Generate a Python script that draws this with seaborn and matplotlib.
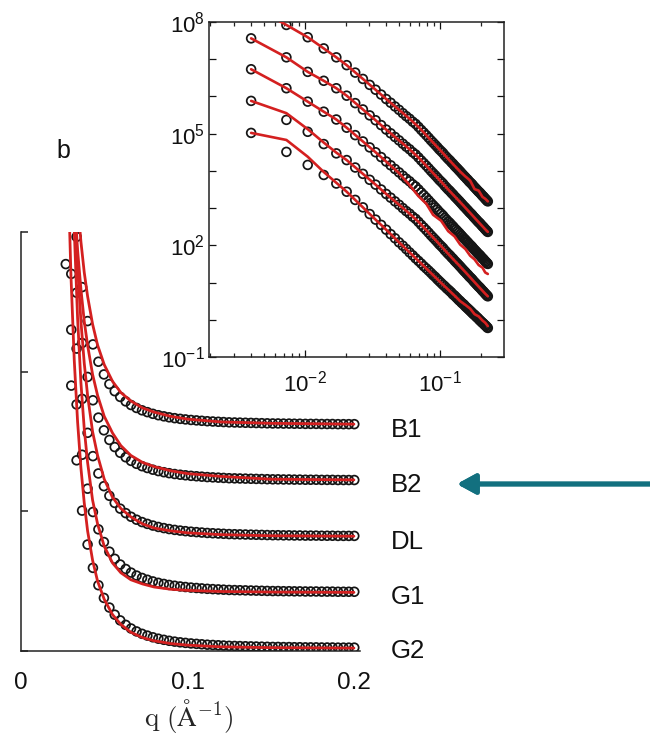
import numpy as np
import matplotlib
matplotlib.use("Agg")
import matplotlib.pyplot as plt
import matplotlib.patheffects as pe
from matplotlib.patches import FancyArrowPatch
from matplotlib.ticker import FixedLocator, FuncFormatter, LogLocator, NullLocator, NullFormatter
import seaborn as sns

# q grid (1/A) of the measured points
q = [0.0040, 0.0073, 0.0105, 0.0138, 0.0171, 0.0204, 0.0236, 0.0269, 0.0302, 0.0334,
     0.0367, 0.0400, 0.0432, 0.0465, 0.0498, 0.0531, 0.0563, 0.0596, 0.0629, 0.0661,
     0.0694, 0.0727, 0.0759, 0.0792, 0.0825, 0.0858, 0.0890, 0.0923, 0.0956, 0.0988,
     0.1021, 0.1054, 0.1086, 0.1119, 0.1152, 0.1185, 0.1217, 0.1250, 0.1283, 0.1315,
     0.1348, 0.1381, 0.1413, 0.1446, 0.1479, 0.1512, 0.1544, 0.1577, 0.1610, 0.1642,
     0.1675, 0.1708, 0.1740, 0.1773, 0.1806, 0.1839, 0.1871, 0.1904, 0.1937, 0.1969,
     0.2002, 0.2035, 0.2067, 0.2100, 0.2133, 0.2166, 0.2198, 0.2231, 0.2264]

samples = ["B1", "B2", "DL", "G1", "G2"]

# ---- main panel (linear, shifted), points q[7] .. q[60]
main_b1 = [4.370, 3.500, 2.965, 2.605, 2.362, 2.195, 2.071, 1.980, 1.911, 1.860, 1.819, 1.787, 1.761, 1.740,
           1.723, 1.710, 1.698, 1.688, 1.680, 1.673, 1.667, 1.662, 1.658, 1.654, 1.651, 1.648, 1.645, 1.643,
           1.641, 1.639, 1.637, 1.636, 1.635, 1.634, 1.633, 1.632, 1.631, 1.630, 1.629, 1.629, 1.628, 1.628,
           1.627, 1.627, 1.626, 1.626, 1.626, 1.625, 1.625, 1.625, 1.624, 1.624, 1.624, 1.624]
main_b2 = [3.970, 3.100, 2.565, 2.205, 1.962, 1.795, 1.671, 1.580, 1.511, 1.460, 1.419, 1.387, 1.361, 1.340,
           1.323, 1.310, 1.298, 1.288, 1.280, 1.273, 1.267, 1.262, 1.258, 1.254, 1.251, 1.248, 1.245, 1.243,
           1.241, 1.239, 1.237, 1.236, 1.235, 1.234, 1.233, 1.232, 1.231, 1.230, 1.229, 1.229, 1.228, 1.228,
           1.227, 1.227, 1.226, 1.226, 1.226, 1.225, 1.225, 1.225, 1.224, 1.224, 1.224, 1.224]
main_dl = [3.570, 2.700, 2.165, 1.805, 1.562, 1.395, 1.271, 1.180, 1.111, 1.060, 1.019, 0.987, 0.961, 0.940,
           0.923, 0.910, 0.898, 0.888, 0.880, 0.873, 0.867, 0.862, 0.858, 0.854, 0.851, 0.848, 0.845, 0.843,
           0.841, 0.839, 0.837, 0.836, 0.835, 0.834, 0.833, 0.832, 0.831, 0.830, 0.829, 0.829, 0.828, 0.828,
           0.827, 0.827, 0.826, 0.826, 0.826, 0.825, 0.825, 0.825, 0.824, 0.824, 0.824, 0.824]
main_g1 = [3.170, 2.300, 1.765, 1.405, 1.162, 0.995, 0.871, 0.780, 0.711, 0.660, 0.619, 0.587, 0.561, 0.540,
           0.523, 0.510, 0.498, 0.488, 0.480, 0.473, 0.467, 0.462, 0.458, 0.454, 0.451, 0.448, 0.445, 0.443,
           0.441, 0.439, 0.437, 0.436, 0.435, 0.434, 0.433, 0.432, 0.431, 0.430, 0.429, 0.429, 0.428, 0.428,
           0.427, 0.427, 0.426, 0.426, 0.426, 0.425, 0.425, 0.425, 0.424, 0.424, 0.424, 0.424]
main_g2 = [2.770, 1.900, 1.365, 1.005, 0.762, 0.595, 0.471, 0.380, 0.311, 0.260, 0.219, 0.187, 0.161, 0.140,
           0.123, 0.110, 0.098, 0.088, 0.080, 0.073, 0.067, 0.062, 0.058, 0.054, 0.051, 0.048, 0.045, 0.043,
           0.041, 0.039, 0.037, 0.036, 0.035, 0.034, 0.033, 0.032, 0.031, 0.030, 0.029, 0.029, 0.028, 0.028,
           0.027, 0.027, 0.026, 0.026, 0.026, 0.025, 0.025, 0.025, 0.024, 0.024, 0.024, 0.024]

# fitted curves, main panel
q_fit = [0.026, 0.028, 0.030, 0.032, 0.034, 0.036, 0.038, 0.040, 0.043, 0.046, 0.050,
         0.055, 0.060, 0.066, 0.073, 0.080, 0.090, 0.100, 0.120, 0.150, 0.200]
fit_b1 = [5.59, 4.70, 4.06, 3.58, 3.21, 2.93, 2.71, 2.54, 2.34, 2.19, 2.05,
          1.93, 1.85, 1.79, 1.74, 1.71, 1.68, 1.66, 1.64, 1.63, 1.624]
fit_b2 = [5.22, 4.35, 3.71, 3.24, 2.87, 2.59, 2.36, 2.19, 1.98, 1.83, 1.68,
          1.56, 1.47, 1.40, 1.35, 1.32, 1.29, 1.27, 1.25, 1.23, 1.225]
fit_dl = [6.47, 5.02, 4.01, 3.28, 2.75, 2.36, 2.06, 1.83, 1.57, 1.40, 1.23,
          1.10, 1.02, 0.96, 0.91, 0.88, 0.86, 0.846, 0.833, 0.825, 0.822]
fit_g1 = [7.14, 5.20, 3.90, 3.01, 2.38, 1.92, 1.59, 1.35, 1.08, 0.91, 0.75,
          0.63, 0.56, 0.51, 0.48, 0.458, 0.442, 0.434, 0.426, 0.422, 0.42]
fit_g2 = [4.75, 3.54, 2.69, 2.08, 1.64, 1.31, 1.06, 0.86, 0.65, 0.50, 0.37,
          0.26, 0.19, 0.134, 0.096, 0.073, 0.053, 0.042, 0.030, 0.024, 0.021]

# ---- inset (log-log), log10 of intensity at every q
ins_b1 = [8.45, 7.92, 7.59, 7.29, 7.05, 6.84, 6.64, 6.47, 6.31, 6.18,
          6.05, 5.93, 5.83, 5.73, 5.64, 5.55, 5.47, 5.40, 5.32, 5.26,
          5.18, 5.10, 5.03, 4.96, 4.89, 4.82, 4.76, 4.70, 4.64, 4.58,
          4.53, 4.48, 4.42, 4.37, 4.32, 4.28, 4.23, 4.19, 4.14, 4.10,
          4.06, 4.02, 3.98, 3.94, 3.90, 3.86, 3.83, 3.79, 3.76, 3.72,
          3.69, 3.66, 3.63, 3.59, 3.56, 3.53, 3.50, 3.47, 3.44, 3.42,
          3.39, 3.36, 3.33, 3.31, 3.28, 3.25, 3.23, 3.20, 3.18]
ins_b2 = [7.56, 7.05, 6.66, 6.42, 6.22, 6.02, 5.82, 5.65, 5.49, 5.36,
          5.23, 5.11, 5.01, 4.91, 4.82, 4.73, 4.65, 4.58, 4.50, 4.44,
          4.36, 4.28, 4.21, 4.14, 4.07, 4.00, 3.94, 3.88, 3.82, 3.76,
          3.71, 3.66, 3.60, 3.55, 3.50, 3.46, 3.41, 3.37, 3.32, 3.28,
          3.24, 3.20, 3.16, 3.12, 3.08, 3.04, 3.01, 2.97, 2.94, 2.90,
          2.87, 2.84, 2.81, 2.77, 2.74, 2.71, 2.68, 2.65, 2.62, 2.60,
          2.57, 2.54, 2.51, 2.49, 2.46, 2.43, 2.41, 2.38, 2.36]
ins_dl = [6.73, 6.22, 5.86, 5.59, 5.38, 5.16, 4.96, 4.79, 4.63, 4.50,
          4.37, 4.25, 4.15, 4.05, 3.96, 3.87, 3.79, 3.72, 3.64, 3.58,
          3.50, 3.42, 3.35, 3.28, 3.21, 3.14, 3.08, 3.02, 2.96, 2.90,
          2.85, 2.80, 2.74, 2.69, 2.64, 2.60, 2.55, 2.51, 2.46, 2.42,
          2.38, 2.34, 2.30, 2.26, 2.22, 2.18, 2.15, 2.11, 2.08, 2.04,
          2.01, 1.98, 1.95, 1.91, 1.88, 1.85, 1.82, 1.79, 1.76, 1.74,
          1.71, 1.68, 1.65, 1.63, 1.60, 1.57, 1.55, 1.52, 1.50]
ins_g1 = [5.88, 5.37, 5.05, 4.72, 4.47, 4.29, 4.09, 3.92, 3.76, 3.63,
          3.50, 3.38, 3.28, 3.18, 3.09, 3.00, 2.92, 2.85, 2.77, 2.71,
          2.63, 2.55, 2.48, 2.41, 2.34, 2.27, 2.21, 2.15, 2.09, 2.03,
          1.98, 1.93, 1.87, 1.82, 1.77, 1.73, 1.68, 1.64, 1.59, 1.55,
          1.51, 1.47, 1.43, 1.39, 1.35, 1.31, 1.28, 1.24, 1.21, 1.17,
          1.14, 1.11, 1.08, 1.04, 1.01, 0.98, 0.95, 0.92, 0.89, 0.87,
          0.84, 0.81, 0.78, 0.76, 0.73, 0.70, 0.68, 0.65, 0.63]
ins_g2 = [5.02, 4.51, 4.16, 3.89, 3.66, 3.44, 3.22, 3.02, 2.84, 2.69,
          2.55, 2.42, 2.30, 2.19, 2.08, 1.99, 1.90, 1.81, 1.73, 1.65,
          1.58, 1.51, 1.44, 1.38, 1.32, 1.26, 1.20, 1.15, 1.09, 1.04,
          0.99, 0.94, 0.90, 0.85, 0.81, 0.77, 0.73, 0.68, 0.65, 0.61,
          0.57, 0.53, 0.50, 0.46, 0.43, 0.40, 0.36, 0.33, 0.30, 0.27,
          0.24, 0.21, 0.18, 0.15, 0.13, 0.10, 0.07, 0.05, 0.02, -0.01,
          -0.03, -0.06, -0.08, -0.10, -0.13, -0.15, -0.17, -0.20, -0.22]

# fitted curves, inset (log10)
q_fit_ins = [0.0040, 0.0073, 0.0105, 0.0138, 0.0171, 0.0204, 0.0269, 0.0334, 0.0400, 0.0498,
             0.0596, 0.0694, 0.0792, 0.0890, 0.1021, 0.1152, 0.1283, 0.1413, 0.1544, 0.1675,
             0.1806, 0.1937, 0.2067, 0.2166, 0.2264]
fit_ins_b1 = [8.45, 7.92, 7.59, 7.29, 7.05, 6.84, 6.47, 6.18, 5.93, 5.64, 5.40, 5.18, 4.96,
              4.76, 4.53, 4.32, 4.14, 3.98, 3.85, 3.74, 3.51, 3.47, 3.30, 3.25, 3.18]
fit_ins_b2 = [7.56, 7.05, 6.66, 6.42, 6.22, 6.02, 5.65, 5.36, 5.11, 4.82, 4.58, 4.36, 4.14,
              3.94, 3.71, 3.50, 3.32, 3.16, 3.01, 2.87, 2.74, 2.62, 2.51, 2.43, 2.36]
fit_ins_dl = [6.73, 6.22, 5.86, 5.59, 5.38, 5.16, 4.79, 4.50, 4.25, 3.94, 3.62, 3.32, 3.12,
              2.82, 2.66, 2.38, 2.24, 2.02, 1.90, 1.72, 1.62, 1.47, 1.40, 1.27, 1.23]
fit_ins_g1 = [5.88, 5.55, 5.12, 4.76, 4.49, 4.29, 3.92, 3.63, 3.38, 3.09, 2.85, 2.63, 2.41,
              2.21, 1.98, 1.77, 1.59, 1.43, 1.28, 1.14, 1.01, 0.89, 0.78, 0.70, 0.63]
fit_ins_g2 = [5.02, 4.83, 4.38, 3.97, 3.68, 3.44, 3.02, 2.69, 2.42, 2.08, 1.81, 1.58, 1.38,
              1.20, 0.99, 0.81, 0.65, 0.50, 0.40, 0.30, 0.15, 0.09, -0.02, -0.08, -0.17]

label_y = [1.585, 1.19, 0.78, 0.385, 0.0]

RED = "#d42020"
BLACK = "#151515"

sns.set_theme(style="white")
plt.rcParams["font.family"] = ["Liberation Sans", "DejaVu Sans"]
plt.rcParams["mathtext.fontset"] = "custom"
plt.rcParams["mathtext.rm"] = "Liberation Sans"
plt.rcParams["mathtext.it"] = "Liberation Sans:italic"
plt.rcParams["mathtext.bf"] = "Liberation Sans:bold"

fig = plt.figure(figsize=(6.5, 7.35), dpi=100)
fig.patch.set_facecolor("white")

# ---------------- main panel
ax = fig.add_axes([0.0323, 0.1143, 0.5212, 0.5701])
ax.set_facecolor("none")
q_main = q[7:61]
main_pts = [main_b1, main_b2, main_dl, main_g1, main_g2]
main_fits = [fit_b1, fit_b2, fit_dl, fit_g1, fit_g2]
for pts in main_pts:
    sns.scatterplot(x=q_main, y=pts, ax=ax, marker="o", s=40, facecolor="none",
                    edgecolor=BLACK, linewidth=1.25, zorder=2)
for fit in main_fits:
    sns.lineplot(x=q_fit, y=fit, ax=ax, color=RED, linewidth=2.0, sort=False,
                 estimator=None, zorder=3)

ax.set_xlim(0, 0.2035)
ax.set_ylim(0, 3)
for s in ["top", "right"]:
    ax.spines[s].set_visible(False)
for s in ["left", "bottom"]:
    ax.spines[s].set_color("#222222")
    ax.spines[s].set_linewidth(1.1)
ax.set_xticks([0, 0.1, 0.2])
ax.set_xticklabels(["0", "0.1", "0.2"])
ax.set_yticks([0, 1, 2, 3])
ax.set_yticklabels([])
ax.tick_params(axis="x", bottom=True, length=0, pad=15, labelsize=17.5, colors="#111111")
ax.tick_params(axis="y", left=True, direction="in", length=5, width=1.1, color="#222222")
ax.set_xlabel("")
ax.set_ylabel("")

for name, yv in zip(samples, label_y):
    ax.text(0.222, yv, name, fontsize=18.5, va="center", ha="left", color="#111111", clip_on=False)

fig.text(189 / 650, 1 - 716 / 735, r"$\mathrm{q\ (\AA^{-1})}$", fontsize=19.5,
         ha="center", va="center", math_fontfamily="cm")
fig.text(63 / 650, 1 - 151 / 735, "b", fontsize=18, ha="center", va="center", color="#111111")

# ---------------- inset
axi = fig.add_axes([0.3215, 0.5143, 0.4538, 0.4558])
axi.set_facecolor("white")
ins_pts = [ins_b1, ins_b2, ins_dl, ins_g1, ins_g2]
ins_fits = [fit_ins_b1, fit_ins_b2, fit_ins_dl, fit_ins_g1, fit_ins_g2]
axi.set_xscale("log")
axi.set_yscale("log")
for pts in ins_pts:
    sns.scatterplot(x=q, y=10.0 ** np.array(pts), ax=axi, marker="o", s=40, facecolor="none",
                    edgecolor=BLACK, linewidth=1.25, zorder=2)
for fit in ins_fits:
    sns.lineplot(x=q_fit_ins, y=10.0 ** np.array(fit), ax=axi, color=RED, linewidth=1.9,
                 sort=False, estimator=None, zorder=3)

axi.set_xlim(0.00195, 0.298)
axi.set_ylim(1e-1, 1e8)
axi.yaxis.set_major_locator(FixedLocator([10.0 ** k for k in range(-1, 9)]))
axi.yaxis.set_minor_locator(NullLocator())
axi.yaxis.set_major_formatter(FuncFormatter(
    lambda v, pos: r"$10^{%d}$" % int(round(np.log10(v))) if int(round(np.log10(v))) in (8, 5, 2, -1) else ""))
axi.xaxis.set_major_locator(FixedLocator([1e-2, 1e-1]))
axi.xaxis.set_major_formatter(FuncFormatter(lambda v, pos: r"$10^{%d}$" % int(round(np.log10(v)))))
axi.xaxis.set_minor_locator(LogLocator(base=10, subs=np.arange(2, 10)))
axi.xaxis.set_minor_formatter(NullFormatter())
axi.tick_params(which="both", direction="in", top=True, right=True, bottom=True, left=True,
                color="#222222", width=0.9)
axi.tick_params(which="major", length=5, labelsize=16, colors="#111111")
axi.tick_params(which="minor", length=3)
axi.tick_params(axis="y", pad=3)
axi.tick_params(axis="x", pad=10)
for s in axi.spines.values():
    s.set_color("#222222")
    s.set_linewidth(1.1)
axi.set_xlabel("")
axi.set_ylabel("")

# arrow pointing at B2
arrow = FancyArrowPatch((1.003, 1 - 484 / 735), (457 / 650, 1 - 484 / 735),
                        transform=fig.transFigure,
                        arrowstyle="-|>,head_length=0.55,head_width=0.3",
                        mutation_scale=20, lw=3.5, color="#12707f",
                        shrinkA=0, shrinkB=0)
arrow.set_path_effects([pe.withSimplePatchShadow(offset=(1.5, -2), shadow_rgbFace="gray", alpha=0.3),
                        pe.Normal()])
fig.add_artist(arrow)

fig.savefig("out.png", dpi=100)
